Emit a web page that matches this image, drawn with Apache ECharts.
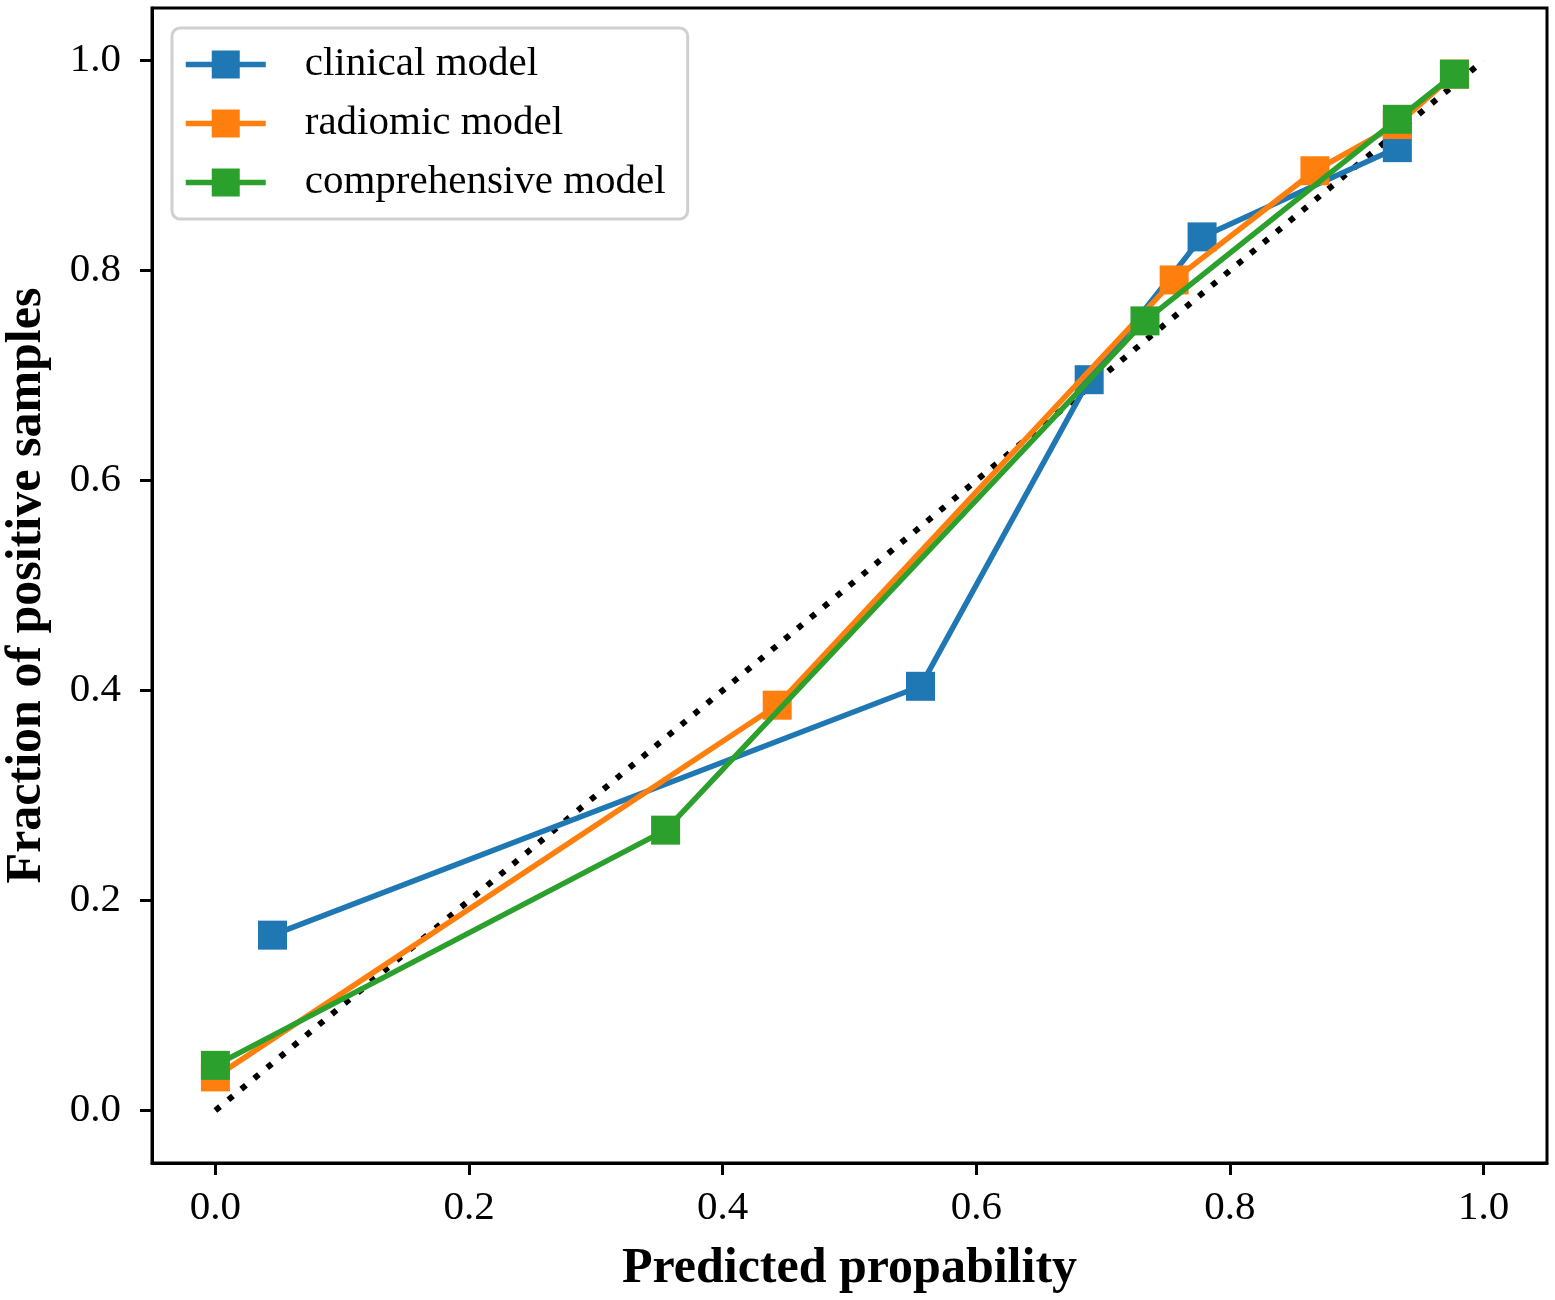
<!DOCTYPE html>
<html>
<head>
<meta charset="utf-8">
<script src="https://cdn.jsdelivr.net/npm/echarts@6/dist/echarts.min.js"></script>
<style>
  html, body { margin: 0; padding: 0; background: #fff; }
  #chart { width: 1555px; height: 1300px; }
</style>
</head>
<body>
<div id="chart"></div>
<script>
// calibration curves
var clinical_x = [0.045, 0.556, 0.689, 0.778, 0.932];
var clinical_y = [0.167, 0.404, 0.696, 0.832, 0.917];
var radiomic_x = [0.0, 0.443, 0.756, 0.867, 0.932, 0.977];
var radiomic_y = [0.032, 0.386, 0.791, 0.895, 0.939, 0.987];
var compre_x = [0.0, 0.355, 0.733, 0.932, 0.977];
var compre_y = [0.043, 0.267, 0.752, 0.944, 0.987];
var perfect_x = [0, 1];
var perfect_y = [0, 1];
var tick_values = [0, 0.2, 0.4, 0.6, 0.8, 1.0];

var names = ['clinical model', 'radiomic model', 'comprehensive model'];
var colors = ['#1f77b4', '#ff7f0e', '#2ca02c'];
var font = 'Liberation Serif';

function pairs(xs, ys) {
  var out = [];
  xs.forEach(function (x, i) { out.push([x, ys[i]]); });
  return out;
}

var chart = echarts.init(document.getElementById('chart'));

function axisOpt(name, gap) {
  return {
    type: 'value',
    min: -0.05,
    max: 1.05,
    name: name,
    nameLocation: 'middle',
    nameGap: gap,
    nameTextStyle: { fontFamily: font, fontWeight: 'bold', fontSize: 50, color: '#000' },
    axisLine: { show: true, onZero: false, lineStyle: { color: '#000', width: 3 } },
    axisTick: { show: true, inside: false, length: 12, lineStyle: { color: '#000', width: 3 }, customValues: tick_values },
    axisLabel: {
      fontFamily: font, fontSize: 41, color: '#000',
      customValues: tick_values,
      formatter: function (v) { return v.toFixed(1); }
    },
    splitLine: { show: false }
  };
}

var xAxis = axisOpt('Predicted propability', 81);
xAxis.axisLabel.margin = 25;
var yAxis = axisOpt('Fraction of positive samples', 100);
yAxis.axisLabel.margin = 31;

var lineSeries = [];
[[clinical_x, clinical_y], [radiomic_x, radiomic_y], [compre_x, compre_y]].forEach(function (d, i) {
  lineSeries.push({
    name: names[i],
    type: 'line',
    data: pairs(d[0], d[1]),
    color: colors[i],
    symbol: 'rect',
    symbolSize: 29,
    lineStyle: { width: 5.5, color: colors[i] },
    itemStyle: { color: colors[i] },
    animation: false,
    z: 3 + i
  });
});

var option = {
  animation: false,
  grid: {
    left: 152, top: 8, right: 8, bottom: 137,
    outerBoundsMode: 'none',
    containLabel: false,
    show: true, borderColor: '#000', borderWidth: 3
  },
  legend: {
    data: names,
    left: 172,
    top: 28,
    orient: 'vertical',
    itemWidth: 80,
    itemHeight: 35,
    itemGap: 18,
    padding: [16, 22, 16, 11],
    backgroundColor: 'rgba(255,255,255,0.8)',
    borderColor: '#d0d0d0',
    borderWidth: 3,
    borderRadius: 8,
    lineStyle: { width: 5.5 },
    textStyle: { fontFamily: font, fontSize: 41, color: '#000', padding: [0, 0, 0, 34] }
  },
  xAxis: xAxis,
  yAxis: yAxis,
  series: [
    {
      name: 'perfect',
      type: 'line',
      data: pairs(perfect_x, perfect_y),
      symbol: 'none',
      lineStyle: { color: '#000', width: 6, type: [6, 10.8], cap: 'butt' },
      z: 2
    }
  ].concat(lineSeries)
};

chart.setOption(option);
</script>
</body>
</html>
